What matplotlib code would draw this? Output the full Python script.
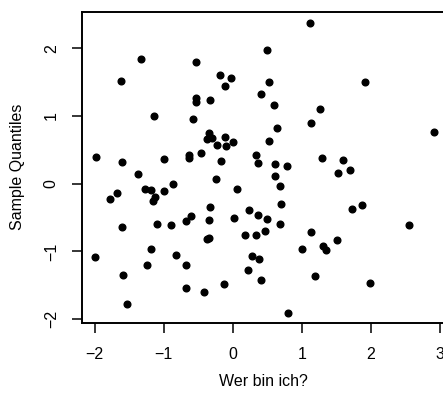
import numpy as np
import matplotlib
matplotlib.use("Agg")
import matplotlib.pyplot as plt

plt.rcParams['font.family'] = ['Liberation Sans', 'DejaVu Sans']

# theoretical (x) and sample (y) values
x_vals = [1.116, -1.33, 0.49, -0.536, -1.62, -0.19, -0.03, -0.106, 0.527, 1.92,
          0.406, -0.527, -0.527, -0.33, 0.60, 1.27, -1.145, -0.57, 1.135, 0.647,
          2.92, -0.338, -0.367, -0.30, -0.106, 0.53, 0.0, -0.232, -0.097, -1.98,
          -0.46, -0.63, -0.63, -0.99, 0.338, -1.61, -0.164, 0.372, 0.61, 0.78,
          1.30, 1.60, 1.70, 1.53, -1.37, 0.61, -0.246, -0.86, 0.686, -1.27,
          -1.19, 0.058, -1.67, -1.0, -1.78, -1.12, -1.16, 0.696, -0.33, 1.88,
          1.73, 0.24, 0.367, -0.604, 0.498, 0.019, -0.676, -0.343, -1.61, -1.10,
          -0.89, 0.69, 2.556, 0.473, 1.13, 0.174, 0.338, -0.367, -0.338, 1.517,
          -1.18, 1.01, 1.314, 1.353, -1.99, -0.82, 0.285, 0.377, -1.24, -0.68,
          0.227, -1.59, 1.198, 0.415, -0.126, 1.995, -0.67, -0.415, -1.527, 0.807]
y_vals = [2.37, 1.85, 1.97, 1.80, 1.52, 1.60, 1.56, 1.44, 1.50, 1.50,
          1.33, 1.26, 1.21, 1.24, 1.17, 1.11, 1.00, 0.95, 0.90, 0.83,
          0.77, 0.75, 0.655, 0.68, 0.69, 0.63, 0.61, 0.576, 0.56, 0.40,
          0.45, 0.43, 0.38, 0.36, 0.43, 0.32, 0.33, 0.305, 0.286, 0.266,
          0.384, 0.345, 0.20, 0.16, 0.143, 0.113, 0.064, 0.0, -0.04, -0.08,
          -0.09, -0.084, -0.143, -0.113, -0.227, -0.20, -0.256, -0.30, -0.34, -0.31,
          -0.374, -0.394, -0.458, -0.478, -0.517, -0.512, -0.547, -0.542, -0.645, -0.60,
          -0.61, -0.59, -0.616, -0.70, -0.714, -0.754, -0.764, -0.818, -0.80, -0.828,
          -0.96, -0.966, -0.92, -0.975, -1.08, -1.054, -1.064, -1.108, -1.197, -1.207,
          -1.28, -1.35, -1.36, -1.42, -1.48, -1.47, -1.547, -1.606, -1.773, -1.906]

x_ticks = [-2, -1, 0, 1, 2, 3]
y_ticks = [-2, -1, 0, 1, 2]

W, H = 443, 400
fig = plt.figure(figsize=(W / 100, H / 100), dpi=100)
# plot frame runs slightly past the right edge, like the cropped original
left, right, top, bottom = 81.7, 448.0, 11.7, 322.7
ax = fig.add_axes([left / W, 1 - bottom / H, (right - left) / W, (bottom - top) / H])

ax.plot(x_vals, y_vals, 'o', color='black', ms=4.8, mec='black')

ax.set_xlim(-2.188, 3.12)
ax.set_ylim(-2.054, 2.542)
ax.set_xticks(x_ticks)
ax.set_yticks(y_ticks)
ax.set_xticklabels([str(t).replace('-', '\u2212') for t in x_ticks])
ax.set_yticklabels([str(t).replace('-', '\u2212') for t in y_ticks],
                   rotation=90, va='center')

for s in ax.spines.values():
    s.set_linewidth(1.4)
ax.tick_params(axis='both', direction='out', length=7.5, width=1.1,
               labelsize=11.5, color='black')
ax.tick_params(axis='x', pad=10)
ax.tick_params(axis='y', pad=9)

ax.set_xlabel('Wer bin ich?', fontsize=11.5, va='center')
ax.xaxis.set_label_coords(0.495, -0.188)
ax.set_ylabel('Sample Quantiles', fontsize=11.5, va='center')
ax.yaxis.set_label_coords(-0.174, 0.502)

fig.savefig('out.png', dpi=100)
